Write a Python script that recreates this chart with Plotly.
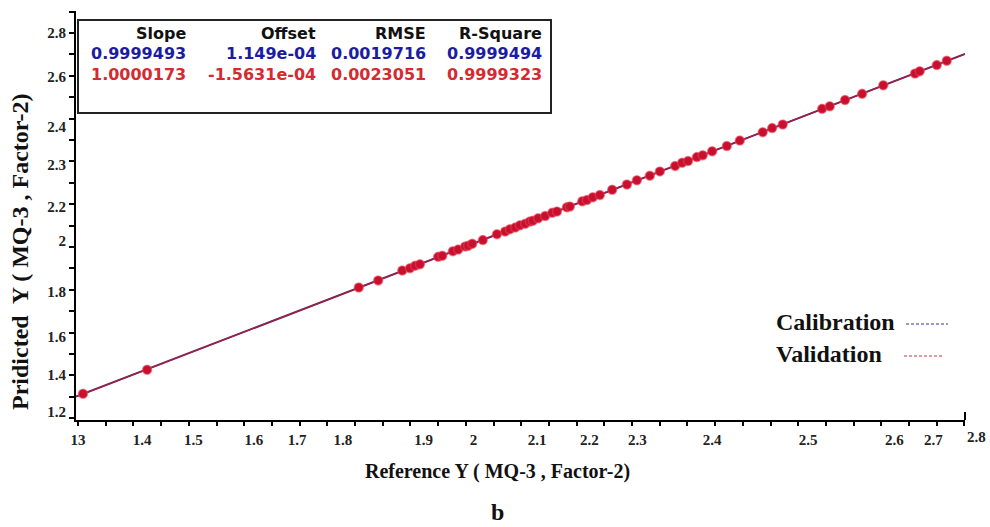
import plotly.graph_objects as go

# ---------------- data ----------------
ref_y = [1.300, 1.409, 1.769, 1.802, 1.843, 1.856, 1.865, 1.873, 1.904, 1.911,
         1.929, 1.938, 1.950, 1.955, 1.962, 1.980, 2.004, 2.018, 2.026, 2.035,
         2.043, 2.052, 2.060, 2.065, 2.074, 2.086, 2.098, 2.106, 2.123, 2.128,
         2.149, 2.157, 2.167, 2.179, 2.200, 2.225, 2.242, 2.264, 2.281, 2.307,
         2.319, 2.329, 2.344, 2.354, 2.370, 2.395, 2.417, 2.456, 2.472, 2.490,
         2.557, 2.570, 2.596, 2.625, 2.661, 2.715, 2.723, 2.752, 2.769]
pred_y = [1.301, 1.407, 1.770, 1.801, 1.845, 1.855, 1.866, 1.872, 1.905, 1.910,
          1.930, 1.937, 1.951, 1.954, 1.963, 1.979, 2.005, 2.017, 2.027, 2.034,
          2.044, 2.051, 2.061, 2.064, 2.075, 2.085, 2.099, 2.105, 2.124, 2.127,
          2.150, 2.156, 2.168, 2.178, 2.201, 2.224, 2.243, 2.263, 2.282, 2.306,
          2.320, 2.328, 2.345, 2.353, 2.371, 2.394, 2.418, 2.455, 2.473, 2.489,
          2.558, 2.569, 2.597, 2.624, 2.662, 2.714, 2.724, 2.751, 2.770]

stat_names = ["Slope", "Offset", "RMSE", "R-Square"]
calib_stats = ["0.9999493", "1.149e-04", "0.0019716", "0.9999494"]
valid_stats = ["1.0000173", "-1.5631e-04", "0.0023051", "0.9999323"]
calib_slope, calib_offset = 0.9999493, 1.149e-04
valid_slope, valid_offset = 1.0000173, -1.5631e-04

x_tick_labels = ["13", "1.4", "1.5", "1.6", "1.7", "1.8", "1.9", "2", "2.1",
                 "2.2", "2.3", "2.4", "2.5", "2.6", "2.7"]
x_tick_pos = [1.2915, 1.4005, 1.4875, 1.5905, 1.6640, 1.7420, 1.8795, 1.9640,
              2.0725, 2.1610, 2.2430, 2.3700, 2.5330, 2.6800, 2.7460]
x_last_label = "2.8"
y_tick_labels = ["2.8", "2.6", "2.4", "2.3", "2.2", "2", "1.8", "1.6", "1.4", "1.2"]
y_tick_pos = [2.892, 2.698, 2.478, 2.310, 2.125, 1.975, 1.750, 1.551, 1.384, 1.221]

X_RANGE = [1.2881, 2.8]
Y_RANGE = [1.1853, 2.9895]

# ---------------- layout helpers ----------------
W, H = 990, 527
L, R, T, B = 76, 25, 11, 107
PW, PH = W - L - R, H - T - B


def px(x):
    return (x - L) / PW


def py(y):
    return (H - B - y) / PH


SERIF = "Liberation Serif"
SANS = "DejaVu Sans"

fig = go.Figure()

# regression lines
line_x = [X_RANGE[0], X_RANGE[1]]
fig.add_trace(go.Scatter(x=line_x, y=[calib_slope * v + calib_offset for v in line_x],
                         mode="lines", line=dict(color="#5a2a70", width=2),
                         name="Calibration", showlegend=False, hoverinfo="skip"))
fig.add_trace(go.Scatter(x=line_x, y=[valid_slope * v + valid_offset for v in line_x],
                         mode="lines", line=dict(color="#a81f3c", width=1.2),
                         name="Validation", showlegend=False, hoverinfo="skip"))
# samples
fig.add_trace(go.Scatter(x=ref_y, y=pred_y, mode="markers",
                         marker=dict(size=9, color="#c8102e",
                                     line=dict(color="rgba(230,70,90,0.55)", width=1.5)),
                         showlegend=False))

axis_common = dict(showgrid=False, zeroline=False, showline=True, linecolor="black",
                   linewidth=2, ticks="", tickmode="array",
                   tickfont=dict(family=SERIF, size=15, color="#222"))

fig.update_xaxes(range=X_RANGE, tickvals=x_tick_pos,
                 ticktext=[f"<b>{t}</b>" for t in x_tick_labels],
                 ticklabelstandoff=5,
                 minor=dict(tickmode="linear", tick0=1.2915, dtick=0.04711,
                            ticks="outside", ticklen=4, tickwidth=2, tickcolor="black",
                            showgrid=False),
                 **axis_common)
fig.update_yaxes(range=Y_RANGE, tickvals=y_tick_pos,
                 ticktext=[f"<b>{t}</b>" for t in y_tick_labels],
                 ticklabelstandoff=5,
                 minor=dict(tickmode="linear", tick0=2.8924, dtick=0.0944,
                            ticks="outside", ticklen=5, tickwidth=2, tickcolor="black",
                            showgrid=False),
                 **axis_common)

shapes = [
    # statistics box
    dict(type="rect", xref="paper", yref="paper", x0=px(78), x1=px(551),
         y0=py(113), y1=py(20), line=dict(color="#222", width=2),
         fillcolor="white", layer="above"),
    # legend dashes
    dict(type="line", xref="paper", yref="paper", x0=px(906), x1=px(948),
         y0=py(324), y1=py(324), line=dict(color="#3030a0", width=1, dash="3px,2px")),
    dict(type="line", xref="paper", yref="paper", x0=px(904), x1=px(944),
         y0=py(356), y1=py(356), line=dict(color="#d03040", width=1, dash="3px,2px")),
    # right end cap of x axis
    dict(type="line", xref="paper", yref="paper", x0=1, x1=1,
         y0=0, y1=py(412), line=dict(color="black", width=2)),
]

annotations = []
col_right = [188, 318, 428, 544]
rows = [(stat_names, "#111", 34), (calib_stats, "#1c1ca0", 54),
        (valid_stats, "#d42a30", 74)]
for texts, color, ypix in rows:
    for t, xr in zip(texts, col_right):
        annotations.append(dict(
            text=f"<b>{t}</b>", xref="paper", yref="paper",
            x=px(xr), y=py(ypix), xanchor="right", yanchor="middle", showarrow=False,
            font=dict(family=SANS, size=16, color=color)))

annotations += [
    dict(text="<b>Calibration</b>", xref="paper", yref="paper", x=px(774), y=py(322),
         xanchor="left", yanchor="middle", showarrow=False,
         font=dict(family=SERIF, size=24, color="#111")),
    dict(text="<b>Validation</b>", xref="paper", yref="paper", x=px(774), y=py(354),
         xanchor="left", yanchor="middle", showarrow=False,
         font=dict(family=SERIF, size=24, color="#111")),
    dict(text=f"<b>{x_last_label}</b>", xref="paper", yref="paper", x=px(988), y=py(437),
         xanchor="right", yanchor="middle", showarrow=False,
         font=dict(family=SERIF, size=15, color="#222")),
    dict(text="<b>Reference Y ( MQ-3 , Factor-2)</b>", xref="paper", yref="paper",
         x=px(497), y=py(471), xanchor="center", yanchor="middle", showarrow=False,
         font=dict(family=SERIF, size=20, color="#111")),
    dict(text="<b>b</b>", xref="paper", yref="paper", x=px(497), y=py(512),
         xanchor="center", yanchor="middle", showarrow=False,
         font=dict(family=SERIF, size=24, color="#111")),
    dict(text="<b>Pridicted  Y ( MQ-3 , Factor-2)</b>", xref="paper", yref="paper",
         x=px(20), y=py(252), xanchor="center", yanchor="middle", showarrow=False,
         textangle=-90, font=dict(family=SERIF, size=24, color="#111")),
]

fig.update_layout(width=W, height=H, margin=dict(l=L, r=R, t=T, b=B),
                  paper_bgcolor="white", plot_bgcolor="white",
                  shapes=shapes, annotations=annotations, showlegend=False)

fig.write_html("out.html")
